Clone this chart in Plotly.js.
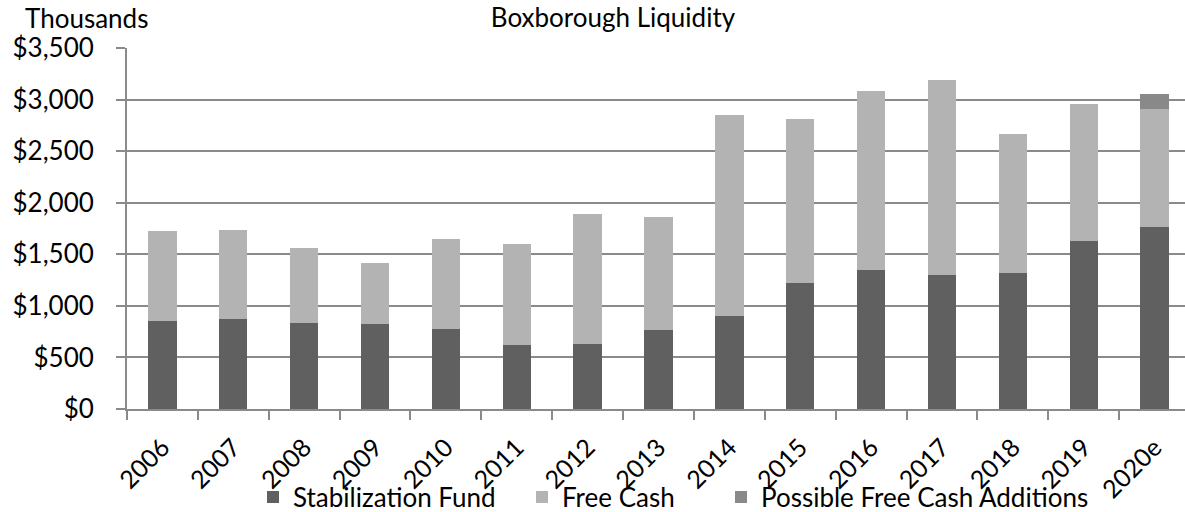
<!DOCTYPE html>
<html>
<head>
<meta charset="utf-8">
<script src="https://cdn.plot.ly/plotly-3.0.1.min.js"></script>
<style>
html, body { margin: 0; padding: 0; overflow: hidden; background: #ffffff; }
#chart { width: 1190px; height: 512px; }
</style>
</head>
<body>
<div id="chart"></div>
<script>
// Data (thousands of dollars)
const years = ["2006", "2007", "2008", "2009", "2010", "2011", "2012", "2013", "2014", "2015", "2016", "2017", "2018", "2019", "2020e"];
const stabilizationFund = [850, 870, 830, 820, 780, 620, 630, 770, 905, 1225, 1350, 1300, 1320, 1630, 1765];
const freeCash = [880, 870, 735, 600, 870, 980, 1260, 1095, 1945, 1590, 1735, 1890, 1350, 1330, 1145];
const possibleAdditions = [0, 0, 0, 0, 0, 0, 0, 0, 0, 0, 0, 0, 0, 0, 145];
const yTickVals = [0, 500, 1000, 1500, 2000, 2500, 3000, 3500];
const yTickText = ["$0", "$500", "$1,000", "$1,500", "$2,000", "$2,500", "$3,000", "$3,500"];

const FONT = "Lato, 'Open Sans', sans-serif";
const GRID = "#8a8a8a";

const traces = [
  { type: "bar", name: "Stabilization Fund", x: years, y: stabilizationFund,
    marker: { color: "#606060" }, legend: "legend", hoverinfo: "y" },
  { type: "bar", name: "Free Cash", x: years, y: freeCash,
    marker: { color: "#b3b3b3" }, legend: "legend2", hoverinfo: "y" },
  { type: "bar", name: "Possible Free Cash Additions", x: years, y: possibleAdditions,
    marker: { color: "#898989" }, legend: "legend3", hoverinfo: "y" }
];

const legendBase = {
  orientation: "h", yanchor: "middle", y: -0.2438, xanchor: "left",
  bgcolor: "rgba(0,0,0,0)", borderwidth: 0, itemwidth: 30,
  font: { family: FONT, size: 26, color: "#000000" }
};

const layout = {
  width: 1190, height: 512,
  margin: { l: 127, r: 0, t: 48, b: 103, pad: 0, autoexpand: false },
  paper_bgcolor: "#ffffff", plot_bgcolor: "#ffffff",
  barmode: "stack", bargap: 0.6,
  font: { family: FONT, size: 26, color: "#000000" },
  title: { text: "Boxborough Liquidity", x: 613 / 1190, xanchor: "center",
           y: 1 - 18 / 512, yanchor: "middle", xref: "container", yref: "container",
           font: { family: FONT, size: 26, color: "#000000" } },
  xaxis: {
    type: "category", showgrid: false, showline: true, linecolor: GRID, linewidth: 2,
    ticks: "outside", tickson: "boundaries", ticklen: 9, tickwidth: 2, tickcolor: GRID,
    tickangle: -45, tickfont: { family: FONT, size: 25, color: "#000000" },
    ticklabelstandoff: 12, zeroline: false, automargin: false
  },
  yaxis: {
    range: [0, 3500], tickvals: yTickVals, ticktext: yTickText,
    showgrid: true, gridcolor: GRID, gridwidth: 2,
    showline: true, linecolor: GRID, linewidth: 2,
    ticks: "outside", ticklen: 9, tickwidth: 2, tickcolor: GRID,
    tickfont: { family: FONT, size: 26, color: "#000000" },
    ticklabelstandoff: 17, zeroline: false, automargin: false
  },
  showlegend: true,
  legend: Object.assign({}, legendBase, { x: (253 - 127) / 1063 }),
  legend2: Object.assign({}, legendBase, { x: (522 - 127) / 1063 }),
  legend3: Object.assign({}, legendBase, { x: (721 - 127) / 1063 }),
  annotations: [
    { text: "Thousands", xref: "paper", yref: "paper", x: (23 - 127) / 1063, xanchor: "left",
      y: (409 - 18) / 361, yanchor: "middle", showarrow: false,
      font: { family: FONT, size: 26, color: "#000000" } }
  ]
};

Plotly.newPlot("chart", traces, layout, { displayModeBar: false, staticPlot: true });
</script>
</body>
</html>
